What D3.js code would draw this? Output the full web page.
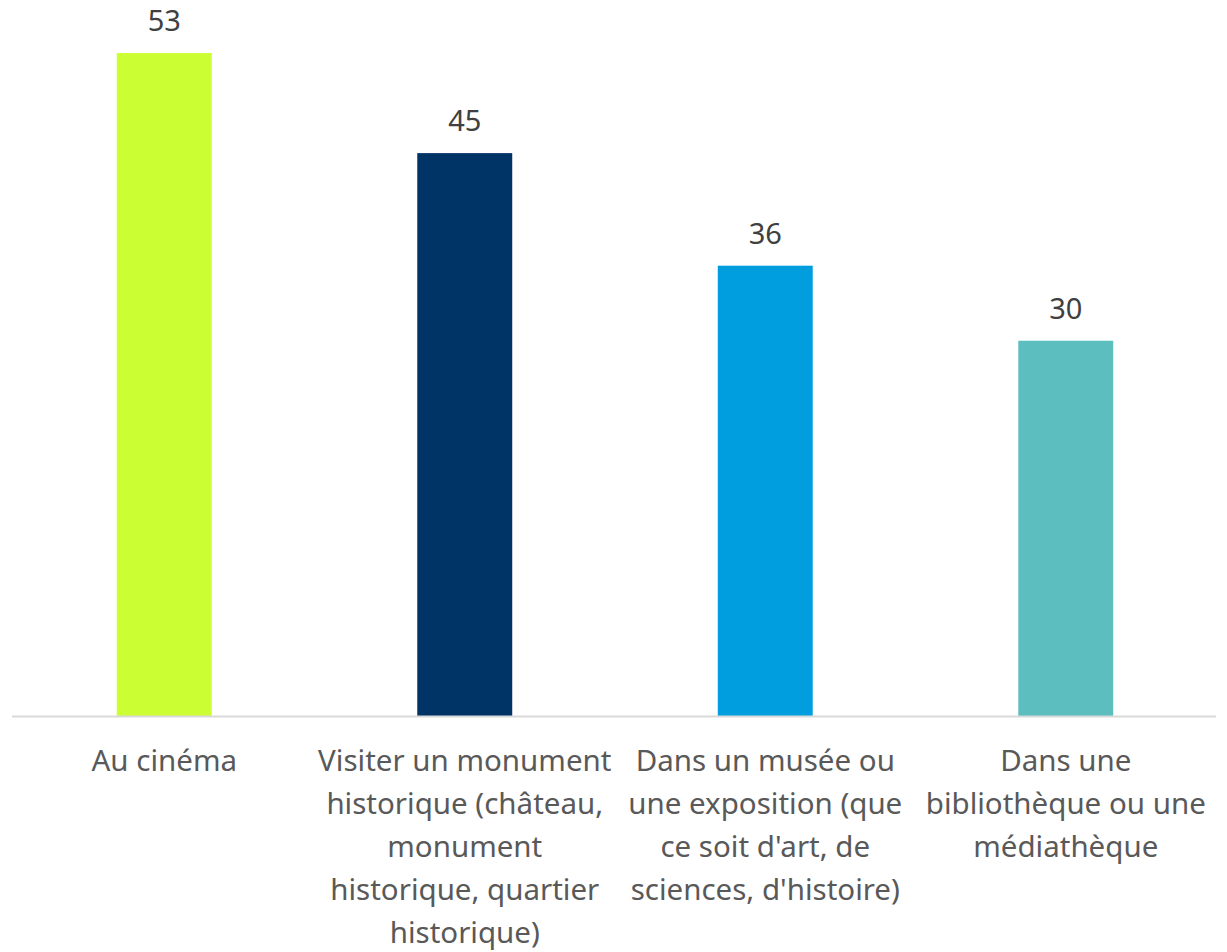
<!DOCTYPE html>
<html>
<head>
<meta charset="utf-8">
<script src="https://cdn.jsdelivr.net/npm/d3@7"></script>
<style>
  body { margin: 0; background: #fff; }
  svg text { font-family: "Noto Sans", sans-serif; }
</style>
</head>
<body>
<div id="chart"></div>
<script>
// categories (already split into lines as on the picture)
var categories = ["Au cinéma", "Visiter un monument", "Dans un musée ou", "Dans une"];
var tickLines = [
    ["Au cinéma"],
    ["Visiter un monument", "historique (château,", "monument", "historique, quartier", "historique)"],
    ["Dans un musée ou", "une exposition (que", "ce soit d'art, de", "sciences, d'histoire)"],
    ["Dans une", "bibliothèque ou une", "médiathèque"]
];
var values = [53, 45, 36, 30];
var colors = ["#ccff33", "#003366", "#009edf", "#5dbec0"];

var width = 1227, height = 952;
var margin = { top: 0, right: 11, bottom: 236, left: 14 };
var innerW = width - margin.left - margin.right,
    innerH = height - margin.top - margin.bottom;

var svg = d3.select("#chart").append("svg")
    .attr("width", width)
    .attr("height", height);

var g = svg.append("g")
    .attr("transform", "translate(" + margin.left + "," + margin.top + ")");

var x = d3.scaleBand().domain(d3.range(values.length)).range([0, innerW]).paddingInner(0.684).paddingOuter(0.342);
var y = d3.scaleLinear().domain([0, 57.24]).range([innerH, 0]);

g.selectAll(".bar")
    .data(values)
    .enter()
    .append("rect")
    .attr("class", "bar")
    .attr("x", (d, i) => x(i))
    .attr("y", d => y(d))
    .attr("width", x.bandwidth())
    .attr("height", d => innerH - y(d))
    .attr("fill", (d, i) => colors[i]);

// value labels
g.selectAll(".val")
    .data(values)
    .enter()
    .append("text")
    .attr("class", "val")
    .attr("x", (d, i) => x(i) + x.bandwidth() / 2)
    .attr("y", d => y(d) - 22)
    .attr("text-anchor", "middle")
    .attr("font-size", 29)
    .attr("fill", "#404040")
    .text(d => d);

// axis line
g.append("line")
    .attr("x1", -2).attr("x2", innerW)
    .attr("y1", innerH + 0.5).attr("y2", innerH + 0.5)
    .attr("stroke", "#d9d9d9")
    .attr("stroke-width", 2);

// category labels
var labels = g.selectAll(".cat")
    .data(tickLines)
    .enter()
    .append("text")
    .attr("class", "cat")
    .attr("text-anchor", "middle")
    .attr("font-size", 29.5)
    .attr("fill", "#595959")
    .attr("transform", (d, i) => "translate(" + (x(i) + x.bandwidth() / 2) + "," + (innerH + 55) + ")");

labels.selectAll("tspan")
    .data(d => d)
    .enter()
    .append("tspan")
    .attr("x", 0)
    .attr("y", (d, j) => j * 42.9)
    .text(d => d);
</script>
</body>
</html>
